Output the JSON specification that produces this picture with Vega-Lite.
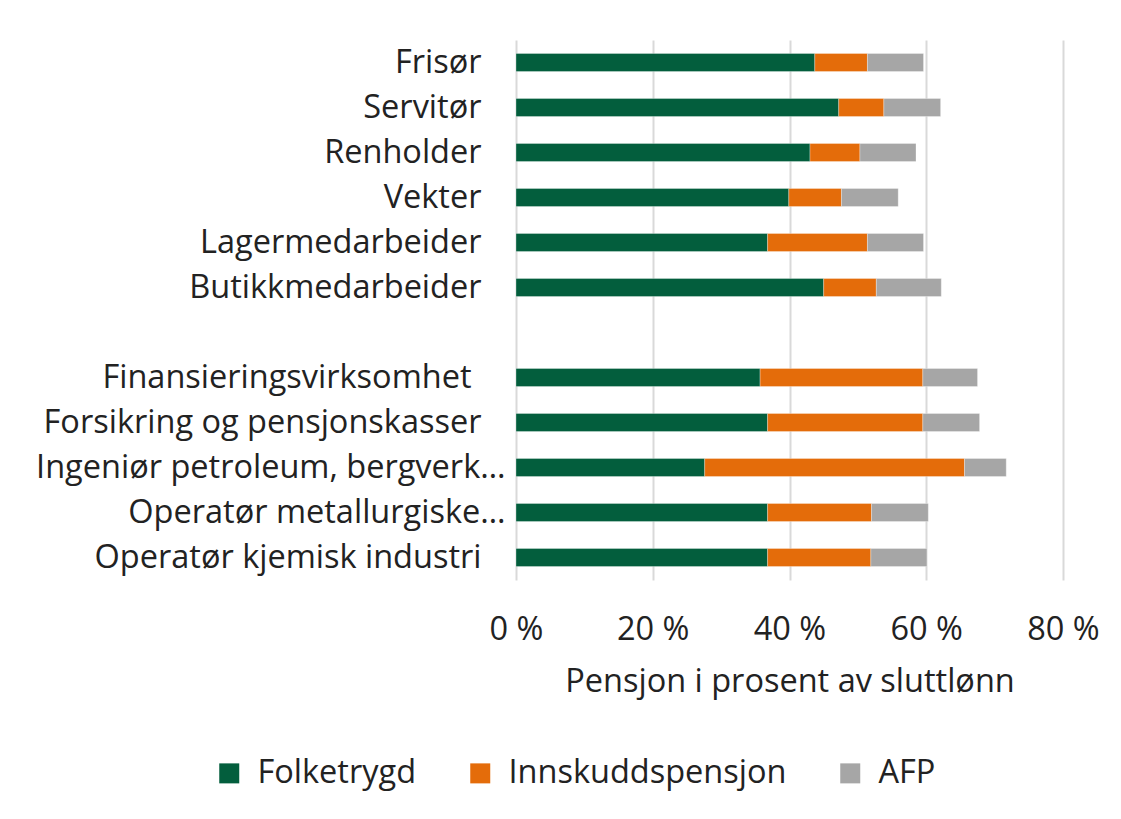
{
  "$schema": "https://vega.github.io/schema/vega-lite/v6.json",
  "autosize": {"type": "none"},
  "width": 547,
  "height": 540,
  "padding": {"left": 516, "top": 40, "right": 58, "bottom": 239},
  "background": "white",
  "config": {
    "font": "Open Sans",
    "view": {"stroke": null},
    "axis": {"labelFont": "Open Sans", "titleFont": "Open Sans", "labelColor": "#222222", "titleColor": "#222222"}
  },
  "data": {
    "values": [
      {"yrke": "Frisør", "komponent": "Folketrygd", "verdi": 43.7},
      {"yrke": "Frisør", "komponent": "Innskuddspensjon", "verdi": 7.7},
      {"yrke": "Frisør", "komponent": "AFP", "verdi": 8.2},
      {"yrke": "Servitør", "komponent": "Folketrygd", "verdi": 47.2},
      {"yrke": "Servitør", "komponent": "Innskuddspensjon", "verdi": 6.6},
      {"yrke": "Servitør", "komponent": "AFP", "verdi": 8.3},
      {"yrke": "Renholder", "komponent": "Folketrygd", "verdi": 43.0},
      {"yrke": "Renholder", "komponent": "Innskuddspensjon", "verdi": 7.3},
      {"yrke": "Renholder", "komponent": "AFP", "verdi": 8.2},
      {"yrke": "Vekter", "komponent": "Folketrygd", "verdi": 39.9},
      {"yrke": "Vekter", "komponent": "Innskuddspensjon", "verdi": 7.7},
      {"yrke": "Vekter", "komponent": "AFP", "verdi": 8.3},
      {"yrke": "Lagermedarbeider", "komponent": "Folketrygd", "verdi": 36.8},
      {"yrke": "Lagermedarbeider", "komponent": "Innskuddspensjon", "verdi": 14.6},
      {"yrke": "Lagermedarbeider", "komponent": "AFP", "verdi": 8.2},
      {"yrke": "Butikkmedarbeider", "komponent": "Folketrygd", "verdi": 45.0},
      {"yrke": "Butikkmedarbeider", "komponent": "Innskuddspensjon", "verdi": 7.7},
      {"yrke": "Butikkmedarbeider", "komponent": "AFP", "verdi": 9.5},
      {"yrke": "Finansieringsvirksomhet", "komponent": "Folketrygd", "verdi": 35.7},
      {"yrke": "Finansieringsvirksomhet", "komponent": "Innskuddspensjon", "verdi": 23.8},
      {"yrke": "Finansieringsvirksomhet", "komponent": "AFP", "verdi": 8.0},
      {"yrke": "Forsikring og pensjonskasser", "komponent": "Folketrygd", "verdi": 36.8},
      {"yrke": "Forsikring og pensjonskasser", "komponent": "Innskuddspensjon", "verdi": 22.7},
      {"yrke": "Forsikring og pensjonskasser", "komponent": "AFP", "verdi": 8.3},
      {"yrke": "Ingeniør petroleum, bergverk…", "komponent": "Folketrygd", "verdi": 27.6},
      {"yrke": "Ingeniør petroleum, bergverk…", "komponent": "Innskuddspensjon", "verdi": 38.0},
      {"yrke": "Ingeniør petroleum, bergverk…", "komponent": "AFP", "verdi": 6.1},
      {"yrke": "Operatør metallurgiske…", "komponent": "Folketrygd", "verdi": 36.8},
      {"yrke": "Operatør metallurgiske…", "komponent": "Innskuddspensjon", "verdi": 15.2},
      {"yrke": "Operatør metallurgiske…", "komponent": "AFP", "verdi": 8.3},
      {"yrke": "Operatør kjemisk industri", "komponent": "Folketrygd", "verdi": 36.8},
      {"yrke": "Operatør kjemisk industri", "komponent": "Innskuddspensjon", "verdi": 15.1},
      {"yrke": "Operatør kjemisk industri", "komponent": "AFP", "verdi": 8.2}
    ]
  },
  "transform": [
    {"calculate": "indexof(['Folketrygd', 'Innskuddspensjon', 'AFP'], datum.komponent)", "as": "stabelrekkefolge"}
  ],
  "mark": {"type": "bar", "stroke": "#ffffff", "strokeWidth": 0.6, "strokeOpacity": 0.5},
  "encoding": {
    "y": {
      "field": "yrke",
      "type": "nominal",
      "title": null,
      "scale": {
        "domain": ["Frisør", "Servitør", "Renholder", "Vekter", "Lagermedarbeider", "Butikkmedarbeider", "  ", "Finansieringsvirksomhet", "Forsikring og pensjonskasser", "Ingeniør petroleum, bergverk…", "Operatør metallurgiske…", "Operatør kjemisk industri"],
        "paddingInner": 0.6,
        "paddingOuter": 0.3
      },
      "axis": {
        "domain": false,
        "ticks": false,
        "labelFontSize": 32.5,
        "labelPadding": {
          "condition": [
            {"test": "indexof(datum.value, '…') >= 0", "value": 11},
            {"test": "datum.value === 'Finansieringsvirksomhet'", "value": 45}
          ],
          "value": 35
        },
        "labelLimit": 700
      }
    },
    "x": {
      "field": "verdi",
      "type": "quantitative",
      "stack": "zero",
      "title": "Pensjon i prosent av sluttlønn",
      "scale": {"domain": [0, 80], "nice": false},
      "axis": {
        "values": [0, 20, 40, 60, 80],
        "labelExpr": "datum.value + ' %'",
        "labelFlush": false,
        "domain": false,
        "ticks": false,
        "grid": true,
        "gridColor": "#d9d9d9",
        "gridWidth": 2,
        "labelFontSize": 32.5,
        "labelPadding": 33,
        "titleFontSize": 32.5,
        "titleFontWeight": "normal",
        "titlePadding": 20
      }
    },
    "order": {"field": "stabelrekkefolge", "type": "quantitative", "sort": "ascending"},
    "color": {
      "field": "komponent",
      "type": "nominal",
      "sort": ["Folketrygd", "Innskuddspensjon", "AFP"],
      "scale": {"domain": ["Folketrygd", "Innskuddspensjon", "AFP"], "range": ["#035E3D", "#E46C0A", "#A6A6A6"]},
      "legend": {
        "title": null,
        "orient": "none",
        "legendX": -303,
        "legendY": 717,
        "direction": "horizontal",
        "columns": 3,
        "symbolType": "square",
        "symbolSize": 400,
        "symbolStrokeWidth": 0,
        "labelFontSize": 32.5,
        "labelColor": "#222222",
        "labelOffset": 12,
        "columnPadding": 47,
        "labelLimit": 400
      }
    }
  }
}
